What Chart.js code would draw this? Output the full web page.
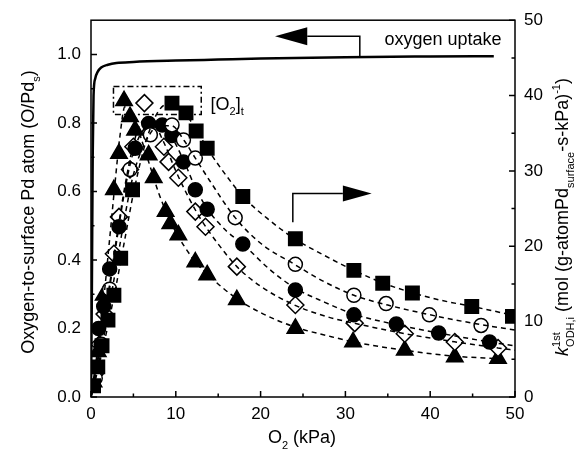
<!DOCTYPE html>
<html><head><meta charset="utf-8">
<script src="https://cdn.jsdelivr.net/npm/chart.js@4.4.1/dist/chart.umd.min.js"></script>
<style>html,body{margin:0;padding:0;background:#fff;}canvas{display:block;}</style>
</head><body>
<canvas id="c" width="577" height="453"></canvas>
<script>
// ---- tick labels ----
const xTicks = [0, 10, 20, 30, 40, 50];
const xMinor = [5, 15, 25, 35, 45];
const leftTicks = [0, 0.2, 0.4, 0.6, 0.8, 1.0];
const leftMinor = [0.1, 0.3, 0.5, 0.7, 0.9];
const rightTicks = [0, 10, 20, 30, 40, 50];
const rightMinor = [5, 15, 25, 35, 45];

// ---- oxygen uptake (left axis) ----
const uptX = [0, 0.1, 0.2, 0.3, 0.5, 0.8, 1.2, 2, 3, 5, 10, 15, 20, 30, 40, 47.5];
const uptY = [0, 0.3, 0.7, 0.88, 0.93, 0.95, 0.962, 0.97, 0.975, 0.978, 0.982, 0.985, 0.988, 0.992, 0.994, 0.995];

// ---- measured k (right axis) ----
const sqX = [0.3, 0.8, 1.3, 2.0, 2.7, 3.5, 4.9, 9.55, 11.2, 12.4, 13.7, 17.9, 24.1, 31.0, 34.4, 37.9, 44.9, 49.7];
const sqY = [1.5, 4.0, 6.8, 10.2, 13.5, 18.4, 27.5, 39.0, 37.7, 35.3, 33.0, 26.6, 21.0, 16.8, 15.1, 13.8, 12.0, 10.7];
const ocX = [0.5, 1.2, 2.2, 4.6, 7.0, 9.55, 10.9, 12.3, 17.0, 24.1, 31.0, 34.8, 39.9, 46.0];
const ocY = [2.5, 7.0, 14.3, 30.2, 34.8, 36.1, 34.1, 31.7, 23.8, 17.6, 13.5, 12.4, 10.9, 9.5];
const fcX = [0.3, 0.9, 1.5, 2.2, 3.3, 5.2, 6.8, 8.4, 9.55, 10.9, 12.3, 13.7, 17.9, 24.1, 31.0, 36.0, 41.0, 47.0];
const fcY = [3.0, 9.1, 12.0, 17.0, 22.6, 33.0, 36.3, 36.1, 34.7, 31.2, 27.5, 24.9, 20.3, 14.2, 10.9, 9.7, 8.5, 7.3];
const dmX = [0.4, 1.0, 1.6, 2.7, 3.3, 4.6, 5.0, 6.3, 8.6, 9.15, 10.3, 12.3, 13.5, 17.2, 24.1, 31.1, 37.0, 42.9, 48.0];
const dmY = [3.0, 7.0, 11.0, 19.0, 23.9, 30.2, 33.2, 39.0, 33.2, 31.2, 29.1, 24.6, 22.6, 17.3, 12.2, 9.8, 8.4, 7.3, 6.5];
const trX = [0.3, 0.8, 1.5, 2.7, 3.3, 3.9, 4.6, 5.2, 6.8, 7.4, 8.8, 9.35, 10.3, 12.3, 13.7, 17.2, 24.1, 30.9, 37.0, 42.9, 48.0];
const trY = [2.0, 6.0, 13.5, 27.5, 32.3, 39.3, 37.2, 35.4, 32.1, 29.1, 24.6, 23.0, 21.5, 17.9, 16.2, 12.9, 9.1, 7.3, 6.2, 5.3, 5.1];

// ---- fitted curves (right axis) ----
const sqFitX = [0, 1, 2, 3, 4, 5, 6.5, 8, 9.5, 11, 12.5, 14, 16, 18, 21, 24, 27.5, 31, 34.5, 38, 41, 45, 50];
const sqFitY = [0, 4.5, 9.5, 15, 21, 27, 34, 38, 39, 37.8, 35.3, 32.5, 29.3, 26.5, 23.5, 21, 18.8, 16.8, 15.1, 13.8, 12.9, 12, 10.8];
const ocFitX = [0, 1, 2, 3, 4, 5, 6.5, 8, 9.5, 11, 12.3, 14, 17, 20, 24, 27.5, 31, 35, 40, 46, 50];
const ocFitY = [0, 5, 11, 17.5, 24, 29.5, 34, 36, 36, 34, 31.7, 28.7, 23.8, 20.4, 17.6, 15.3, 13.5, 12.2, 10.9, 9.6, 8.9];
const fcFitX = [0, 1, 2, 3, 4, 5, 6.5, 8, 9.5, 11, 12.3, 13.7, 16, 18, 21, 24, 27.5, 31, 36, 41, 47, 50];
const fcFitY = [0, 6, 13, 20.5, 27.5, 32.5, 35.8, 36.2, 34.5, 31.2, 27.8, 25, 22, 20.2, 17, 14.5, 12.6, 11, 9.6, 8.5, 7.3, 6.8];
const dmFitX = [0, 1, 2, 3, 4, 5, 6, 7, 8.5, 10, 11.5, 13, 15, 17.2, 20, 24, 28, 31, 37, 43, 48, 50];
const dmFitY = [0, 6.5, 13.5, 21, 28, 33.5, 36.5, 36.8, 34, 30, 26.5, 23.5, 20.3, 17.3, 14.7, 12.2, 10.6, 9.8, 8.4, 7.3, 6.5, 6.2];
const trFitX = [0, 0.8, 1.5, 2.2, 2.8, 3.4, 4.0, 5.0, 6.0, 7.0, 8.0, 9.5, 11, 12.5, 14, 17, 20, 24, 28, 31, 37, 43, 48];
const trFitY = [0, 6.5, 13, 21, 28, 34.5, 38.5, 37.5, 34, 30.5, 27, 23, 20, 17.7, 16, 13.2, 11.2, 9.3, 8.1, 7.3, 6.2, 5.4, 5.1];

const FONT = '"Liberation Sans", Arial, sans-serif';
const pts = (xs, ys) => xs.map((x, i) => ({x: x, y: ys[i]}));

function fitLine(xs, ys) {
  return {type: 'line', data: pts(xs, ys), yAxisID: 'y2', borderColor: '#000', borderWidth: 1.5,
    borderDash: [5, 4], pointRadius: 0, fill: false, cubicInterpolationMode: 'monotone'};
}
function marks(xs, ys, style, r, filled) {
  return {type: 'scatter', data: pts(xs, ys), yAxisID: 'y2', pointStyle: style, pointRadius: r,
    pointBackgroundColor: filled ? '#000' : '#fff', pointBorderColor: '#000', pointBorderWidth: 1.5, showLine: false};
}

function drawRich(ctx, segs, cx, cy, rot, F) {
  ctx.save();
  ctx.translate(cx, cy);
  ctx.rotate(rot);
  ctx.textBaseline = 'alphabetic';
  ctx.fillStyle = '#000';
  const small = Math.round(F * 0.62);
  const fontOf = (s) => (s.i ? 'italic ' : '') + (s.k === 'n' ? F : small) + 'px ' + FONT;
  let w = 0;
  const widths = segs.map(s => {
    if (s.k === 'ps') {
      ctx.font = small + 'px ' + FONT;
      return Math.max(ctx.measureText(s.sup).width, ctx.measureText(s.sub).width);
    }
    ctx.font = fontOf(s);
    return ctx.measureText(s.t).width;
  });
  widths.forEach(v => w += v);
  let x = -w / 2;
  const base = F * 0.36;
  segs.forEach((s, i) => {
    if (s.k === 'ps') {
      ctx.font = small + 'px ' + FONT;
      ctx.fillText(s.sup, x, base - F * 0.45);
      ctx.fillText(s.sub, x, base + F * 0.3);
    } else {
      ctx.font = fontOf(s);
      const dy = s.k === 'b' ? F * 0.3 : (s.k === 'p' ? -F * 0.45 : 0);
      ctx.fillText(s.t, x, base + dy);
    }
    x += widths[i];
  });
  ctx.restore();
}

const decor = {
  id: 'decor',
  afterDatasetsDraw(chart) {
    const ctx = chart.ctx;
    const a = chart.chartArea;
    const sx = chart.scales.x, sy = chart.scales.y, s2 = chart.scales.y2;
    ctx.save();
    ctx.strokeStyle = '#000';
    ctx.lineWidth = 1.5;
    ctx.strokeRect(a.left, a.top, a.right - a.left, a.bottom - a.top);
    ctx.beginPath();
    const tick = (x1, y1, x2, y2) => { ctx.moveTo(x1, y1); ctx.lineTo(x2, y2); };
    xTicks.forEach(v => { const p = sx.getPixelForValue(v); tick(p, a.bottom, p, a.bottom - 6); });
    xMinor.forEach(v => { const p = sx.getPixelForValue(v); tick(p, a.bottom, p, a.bottom - 3.5); });
    leftTicks.forEach(v => { const p = sy.getPixelForValue(v); tick(a.left, p, a.left + 6, p); });
    leftMinor.forEach(v => { const p = sy.getPixelForValue(v); tick(a.left, p, a.left + 3.5, p); });
    rightTicks.forEach(v => { const p = s2.getPixelForValue(v); tick(a.right, p, a.right - 6, p); });
    rightMinor.forEach(v => { const p = s2.getPixelForValue(v); tick(a.right, p, a.right - 3.5, p); });
    ctx.stroke();

    // left-pointing arrow to the oxygen uptake curve
    const ay = sy.getPixelForValue(1.053);
    const elbowX = sx.getPixelForValue(31.7);
    const tipX = sx.getPixelForValue(21.7), baseX = sx.getPixelForValue(25.5);
    ctx.lineWidth = 1.5;
    ctx.beginPath();
    ctx.moveTo(elbowX, sy.getPixelForValue(0.992));
    ctx.lineTo(elbowX, ay);
    ctx.lineTo(baseX, ay);
    ctx.stroke();
    ctx.beginPath();
    ctx.moveTo(tipX, ay); ctx.lineTo(baseX, ay - 9); ctx.lineTo(baseX, ay + 9); ctx.closePath();
    ctx.fillStyle = '#000'; ctx.fill();

    // right-pointing arrow for the k axis
    const vx = sx.getPixelForValue(23.8);
    const hy = s2.getPixelForValue(27.0);
    const hb = sx.getPixelForValue(29.7), ht = sx.getPixelForValue(33.1);
    ctx.beginPath();
    ctx.moveTo(vx, s2.getPixelForValue(23.2));
    ctx.lineTo(vx, hy);
    ctx.lineTo(hb, hy);
    ctx.stroke();
    ctx.beginPath();
    ctx.moveTo(ht, hy); ctx.lineTo(hb, hy - 8); ctx.lineTo(hb, hy + 8); ctx.closePath();
    ctx.fill();

    // dash-dot box marking [O2]t
    ctx.setLineDash([6, 3, 2, 3]);
    ctx.lineWidth = 1.5;
    const bx1 = sx.getPixelForValue(2.65), bx2 = sx.getPixelForValue(13.0);
    const by1 = s2.getPixelForValue(41.2), by2 = s2.getPixelForValue(37.5);
    ctx.strokeRect(bx1, by1, bx2 - bx1, by2 - by1);
    ctx.setLineDash([]);

    // text labels
    ctx.fillStyle = '#000';
    ctx.font = '18px ' + FONT;
    ctx.textBaseline = 'middle';
    ctx.textAlign = 'left';
    ctx.fillText('oxygen uptake', sx.getPixelForValue(34.6), sy.getPixelForValue(1.041));
    ctx.restore();

    ctx.save();
    ctx.textAlign = 'left';
    const lx = sx.getPixelForValue(13.7), ly = s2.getPixelForValue(39.0);
    drawRich(ctx, [{t: '[O', k: 'n'}, {t: '2', k: 'b'}, {t: ']', k: 'n'}, {t: 't', k: 'b'}], lx + 20, ly, 0, 18);
    ctx.restore();

    // axis titles
    ctx.save();
    ctx.textAlign = 'left';
    drawRich(ctx, [{t: 'Oxygen-to-surface Pd atom (O/Pd', k: 'n'}, {t: 's', k: 'b'}, {t: ')', k: 'n'}], 28, 212, -Math.PI / 2, 18);
    drawRich(ctx, [{t: 'k', k: 'n', i: true}, {k: 'ps', sup: '1st', sub: 'ODH,i'}, {t: ' (mol (g-atomPd', k: 'n'},
      {t: 'surface', k: 'b'}, {t: '-s-kPa)', k: 'n'}, {t: '-1', k: 'p'}, {t: ')', k: 'n'}], 562, 217, -Math.PI / 2, 18);
    drawRich(ctx, [{t: 'O', k: 'n'}, {t: '2', k: 'b'}, {t: ' (kPa)', k: 'n'}], 302, 437, 0, 18);
    ctx.restore();
  }
};

const tickFont = {family: FONT, size: 17};
new Chart(document.getElementById('c'), {
  data: {
    datasets: [
      {type: 'line', data: pts(uptX, uptY), yAxisID: 'y', borderColor: '#000', borderWidth: 2.5, pointRadius: 0, fill: false, cubicInterpolationMode: 'monotone'},
      fitLine(sqFitX, sqFitY),
      fitLine(ocFitX, ocFitY),
      fitLine(fcFitX, fcFitY),
      fitLine(dmFitX, dmFitY),
      fitLine(trFitX, trFitY),
      marks(sqX, sqY, 'rect', 9.5, true),
      marks(ocX, ocY, 'circle', 7, false),
      marks(fcX, fcY, 'circle', 7, true),
      marks(dmX, dmY, 'rectRot', 8.5, false),
      marks(trX, trY, 'triangle', 9.5, true)
    ]
  },
  options: {
    responsive: false,
    animation: false,
    devicePixelRatio: 1,
    layout: {padding: {top: 20, left: 0, right: 0, bottom: 0}},
    plugins: {legend: {display: false}, tooltip: {enabled: false}},
    scales: {
      x: {type: 'linear', position: 'bottom', min: 0, max: 50,
        afterBuildTicks: s => { s.ticks = xTicks.map(v => ({value: v})); },
        afterFit: s => { s.height = 56; },
        ticks: {font: tickFont, color: '#000', padding: 7, maxRotation: 0, callback: v => String(v)},
        grid: {display: false, drawTicks: false}, border: {display: false}},
      y: {type: 'linear', position: 'left', min: 0, max: 1.1,
        afterBuildTicks: s => { s.ticks = leftTicks.map(v => ({value: v})); },
        afterFit: s => { s.width = 91; },
        ticks: {font: tickFont, color: '#000', padding: 10, callback: v => Number(v).toFixed(1)},
        grid: {display: false, drawTicks: false}, border: {display: false}},
      y2: {type: 'linear', position: 'right', min: 0, max: 50,
        afterBuildTicks: s => { s.ticks = rightTicks.map(v => ({value: v})); },
        afterFit: s => { s.width = 62; },
        ticks: {font: tickFont, color: '#000', padding: 9, callback: v => String(v)},
        grid: {display: false, drawTicks: false}, border: {display: false}}
    }
  },
  plugins: [decor]
});
</script>
</body></html>
